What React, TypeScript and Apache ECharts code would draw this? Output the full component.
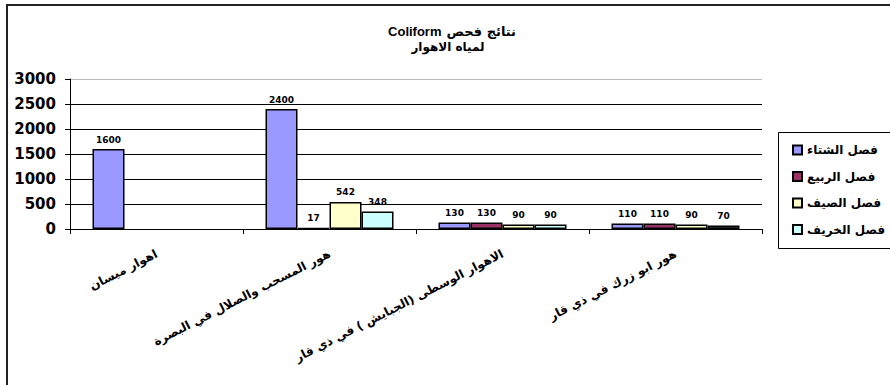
import React, { useEffect, useRef } from "react";
import * as echarts from "echarts";

const categories = [
  "اهوار ميسان",
  "هور المسحب والصلال في البصرة",
  "الاهوار الوسطى (الجبايش ) في ذي قار",
  "هور ابو زرك في ذي قار",
];
const seriesNames = ["فصل الشتاء", "فصل الربيع", "فصل الصيف", "فصل الخريف"];
const winter: (number | null)[] = [1600, 2400, 130, 110];
const spring: (number | null)[] = [null, 17, 130, 110];
const summer: (number | null)[] = [null, 542, 90, 90];
const autumn: (number | null)[] = [null, 348, 90, 70];
const yTicks = { min: 0, max: 3000, interval: 500 };
const titleLatin = "Coliform";
const titleArabic = "نتائج فحص";
const subtitleText = "لمياه الاهوار";

const colors = ["#9999FF", "#993366", "#FFFFCC", "#CCFFFF"];
const arFont = "DejaVu Sans";

export default function App() {
  const ref = useRef<HTMLDivElement>(null);
  useEffect(() => {
    if (!ref.current) return;
    const chart = echarts.init(ref.current, undefined, { renderer: "svg" });
    const allData = [winter, spring, summer, autumn];
    const series = allData.map((arr, si) => ({
      type: "bar",
      name: seriesNames[si],
      barWidth: 32,
      barGap: "0%",
      data: arr.map((v, ci) => {
        if (v === null) return "-";
        if (si === 3 && ci === 3) return { value: v, itemStyle: { color: "#354f4f" } };
        return v;
      }),
      itemStyle: { color: colors[si], borderColor: "#000", borderWidth: 1.5 },
      label: {
        show: true,
        position: "top",
        distance: 5,
        fontFamily: "DejaVu Sans",
        fontWeight: "bold",
        fontSize: 9,
        color: "#000",
      },
    }));
    chart.setOption({
      animation: false,
      backgroundColor: "#fff",
      title: [
        {
          text: `{a|${titleLatin}} {b|${titleArabic}}`,
          left: 447,
          top: 17,
          textAlign: "center",
          textStyle: {
            rich: {
              a: { fontFamily: "Liberation Sans", fontWeight: "bold", fontSize: 13, color: "#000" },
              b: { fontFamily: arFont, fontWeight: "bold", fontSize: 13, color: "#000" },
            },
          },
        },
        {
          text: subtitleText,
          left: 443,
          top: 36,
          textAlign: "center",
          textStyle: { fontFamily: arFont, fontWeight: "bold", fontSize: 12, color: "#000" },
        },
      ],
      graphic: [
        {
          type: "rect",
          shape: { x: 7, y: 5, width: 900, height: 400 },
          style: { fill: "none", stroke: "#222", lineWidth: 2 },
          silent: true,
        },
        {
          type: "rect",
          shape: { x: 778.5, y: 132.5, width: 130, height: 116 },
          style: { fill: "none", stroke: "#000", lineWidth: 1 },
          silent: true,
        },
      ],
      legend: {
        orient: "vertical",
        left: 787,
        top: 139,
        itemWidth: 9,
        itemHeight: 9,
        itemGap: 14.5,
        icon: "rect",
        textStyle: { fontFamily: arFont, fontWeight: "bold", fontSize: 12, color: "#000" },
        data: seriesNames,
      },
      grid: { left: 70, right: 128, top: 79, bottom: 156, containLabel: false },
      xAxis: {
        type: "category",
        data: categories,
        axisLine: { lineStyle: { color: "#000", width: 1 } },
        axisTick: { show: true, length: 5, lineStyle: { color: "#000" } },
        axisLabel: {
          rotate: 27,
          margin: 24,
          interval: 0,
          fontFamily: arFont,
          fontWeight: "bold",
          fontSize: 12,
          color: "#000",
        },
      },
      yAxis: {
        type: "value",
        min: yTicks.min,
        max: yTicks.max,
        interval: yTicks.interval,
        axisLine: { show: true, lineStyle: { color: "#000", width: 1 } },
        axisTick: { show: true, length: 5, lineStyle: { color: "#000" } },
        axisLabel: {
          margin: 14,
          formatter: (v: number) => String(v),
          fontFamily: "DejaVu Sans",
          fontWeight: "bold",
          fontSize: 15,
          color: "#000",
        },
        splitLine: {
          show: true,
          lineStyle: { color: ["#000", "#000", "#000", "#000", "#000", "#000", "#bbb"], width: 1 },
        },
      },
      series,
    });
    return () => chart.dispose();
  }, []);
  return <div ref={ref} style={{ position: "fixed", left: 0, top: 0, width: 890, height: 385 }} />;
}
